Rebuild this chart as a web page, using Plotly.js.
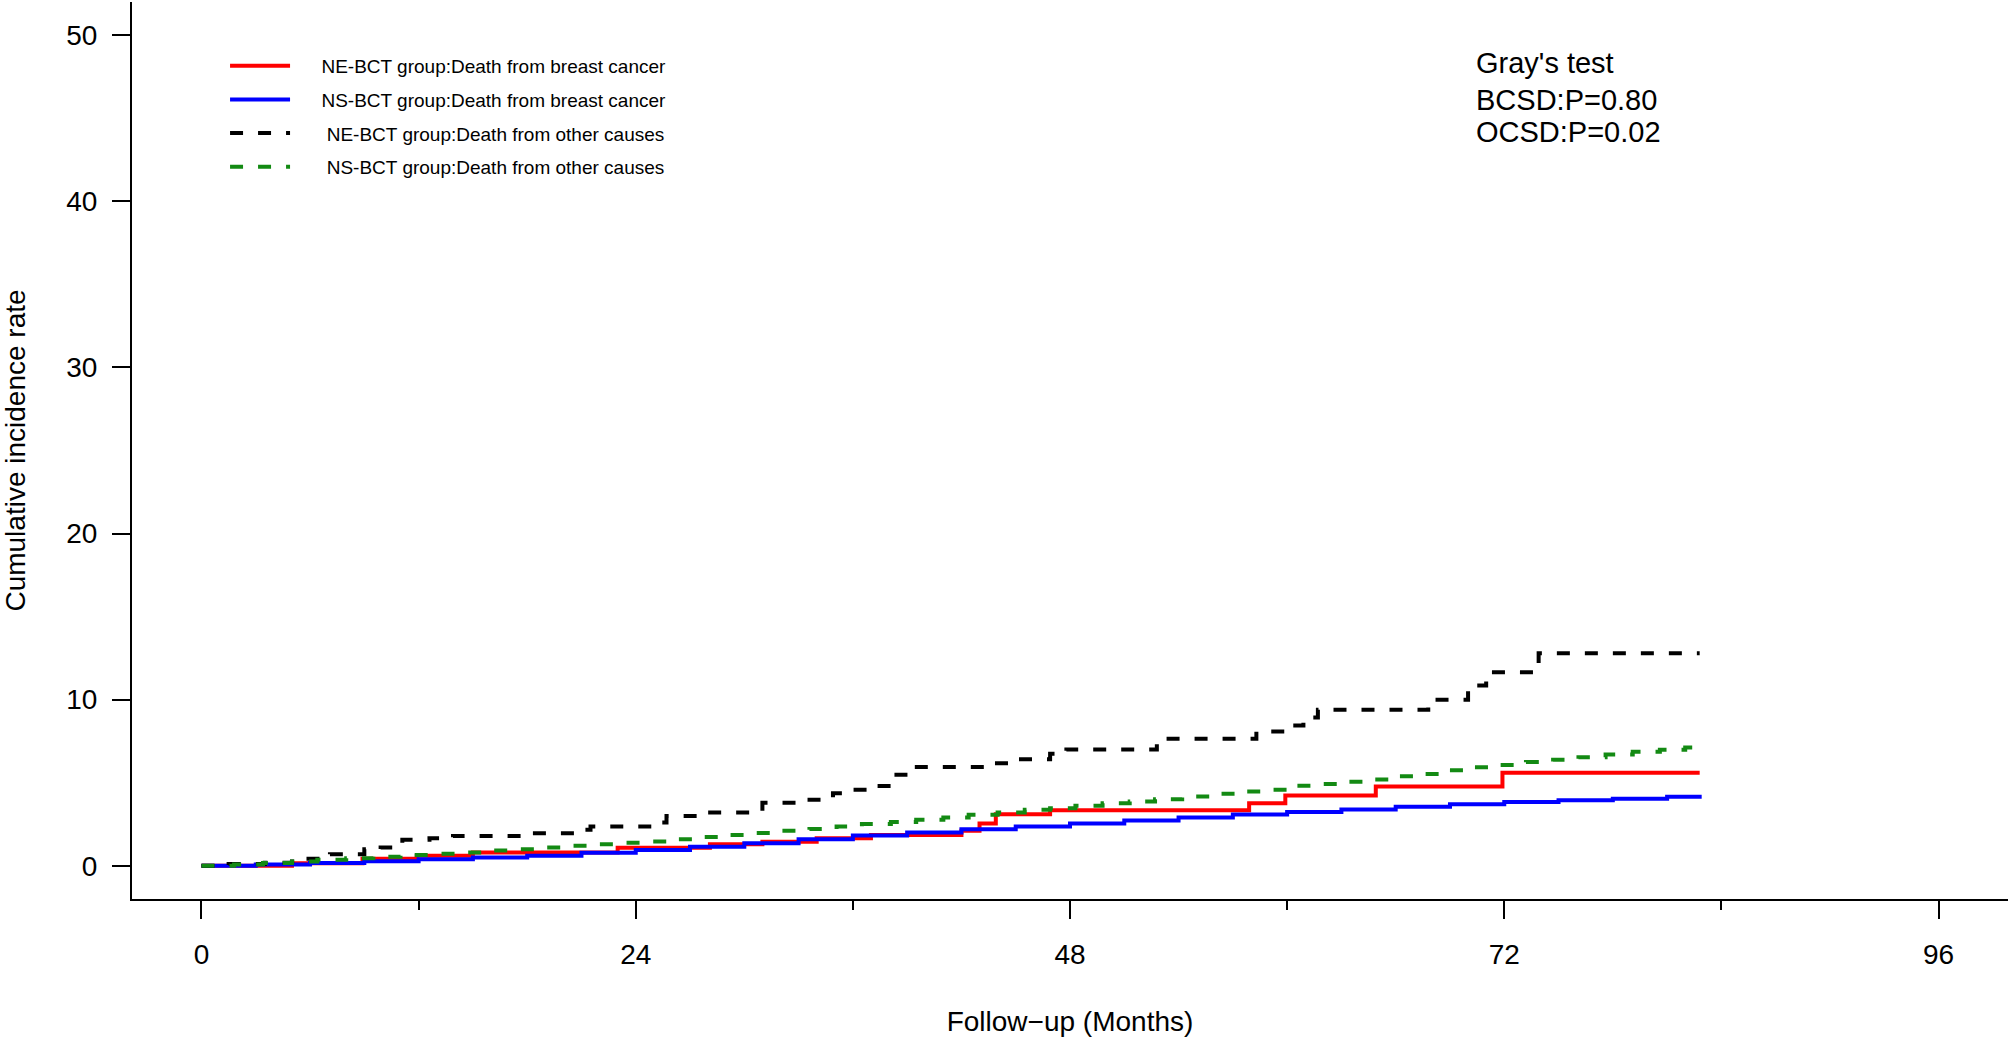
<!DOCTYPE html>
<html>
<head>
<meta charset="utf-8">
<script src="https://cdn.plot.ly/plotly-3.0.1.min.js"></script>
<style>
  body { margin: 0; background: #fff; }
</style>
</head>
<body>
<div id="myDiv"></div>
<script>
// NE-BCT group: death from breast cancer (step points, months / %)
const neBcMonths = [0, 5.0, 8.9, 11.9, 15.0, 23.0, 28.1, 31.0, 34.0, 37.0, 42.0, 43.0, 43.9, 46.9, 57.9, 59.9, 64.9, 71.9, 82.8];
const neBcRate   = [0, 0.15, 0.42, 0.6, 0.8, 1.08, 1.3, 1.45, 1.66, 1.86, 2.11, 2.55, 3.1, 3.35, 3.77, 4.23, 4.77, 5.6, 5.6];

// NS-BCT group: death from breast cancer
const nsBcMonths = [0, 3, 6, 9, 12, 15, 18, 21, 24, 27, 30, 33, 36, 39, 42, 45, 48, 51, 54, 57, 60, 63, 66, 69, 72, 75, 78, 81, 82.8];
const nsBcRate   = [0, 0.08, 0.16, 0.28, 0.4, 0.5, 0.61, 0.78, 0.95, 1.15, 1.36, 1.6, 1.82, 2.0, 2.2, 2.37, 2.54, 2.72, 2.9, 3.08, 3.23, 3.39, 3.55, 3.7, 3.84, 3.95, 4.04, 4.16, 4.27];

// NE-BCT group: death from other causes
const neOcMonths = [0, 1.5, 3.5, 5.0, 5.8, 7.1, 9.0, 9.9, 11.1, 12.6, 13.9, 18.1, 21.0, 21.5, 24.9, 25.7, 28.0, 31.0, 32.9, 34.9, 35.6, 36.9, 38.2, 39.3, 43.7, 45.1, 46.9, 47.8, 52.8, 58.3, 59.9, 60.9, 61.7, 67.8, 70.0, 71.0, 73.9, 82.8];
const neOcRate   = [0, 0.1, 0.18, 0.26, 0.42, 0.7, 1.0, 1.1, 1.56, 1.65, 1.8, 1.96, 2.17, 2.36, 2.6, 3.0, 3.21, 3.79, 3.97, 4.37, 4.57, 4.81, 5.48, 5.94, 6.17, 6.41, 6.74, 7.0, 7.64, 8.08, 8.44, 8.92, 9.39, 9.99, 10.85, 11.65, 12.8, 12.8];

// NS-BCT group: death from other causes
const nsOcMonths = [0, 1.8, 3.4, 5.0, 6.4, 8.0, 9.5, 11.0, 12.6, 14.1, 15.6, 17.1, 18.7, 20.2, 21.6, 23.2, 24.6, 26.1, 27.6, 29.2, 30.6, 32.1, 33.6, 35.1, 36.5, 38.1, 39.5, 41.0, 42.4, 44.0, 45.5, 46.9, 48.3, 49.8, 51.3, 52.7, 54.2, 55.7, 57.2, 58.6, 60.2, 61.6, 63.1, 64.5, 66.0, 67.4, 68.9, 70.2, 71.7, 73.2, 74.7, 76.1, 77.6, 79.1, 80.6, 82.0, 82.8];
const nsOcRate   = [0, 0.08, 0.16, 0.26, 0.36, 0.46, 0.55, 0.65, 0.72, 0.8, 0.92, 1.0, 1.1, 1.2, 1.3, 1.38, 1.46, 1.6, 1.73, 1.86, 1.97, 2.11, 2.21, 2.37, 2.51, 2.63, 2.77, 2.91, 3.07, 3.21, 3.37, 3.47, 3.61, 3.77, 3.87, 4.01, 4.17, 4.33, 4.47, 4.57, 4.82, 4.92, 5.06, 5.19, 5.39, 5.53, 5.75, 5.93, 6.07, 6.24, 6.38, 6.54, 6.7, 6.86, 6.98, 7.12, 7.12];

const seriesNames = [
  "NE-BCT group:Death from breast cancer",
  "NS-BCT group:Death from breast cancer",
  "NE-BCT group:Death from other causes",
  "NS-BCT group:Death from other causes"
];
const xTicks = [0, 24, 48, 72, 96];
const xMinorTicks = [12, 36, 60, 84];
const yTicks = [0, 10, 20, 30, 40, 50];
const testLines = ["Gray's test", "BCSD:P=0.80", "OCSD:P=0.02"];

const FONT = "Liberation Sans, Arial, Helvetica, sans-serif";
const DASH = "13px,15px";
// gap between legend line sample and its text, as in the R legend
const pad = (n) => "\u00a0".repeat(n);

function stepTrace(x, y, name, color, dash, group) {
  return {
    type: "scatter",
    mode: "lines",
    x: x,
    y: y,
    name: name,
    legendgroup: group,
    line: { color: color, width: 4, shape: "hv", dash: dash },
    hoverinfo: "skip"
  };
}

let data = [
  stepTrace(neBcMonths, neBcRate, pad(5) + seriesNames[0], "#FF0000", "solid", "g1"),
  stepTrace(nsBcMonths, nsBcRate, pad(5) + seriesNames[1], "#0000FF", "solid", "g2"),
  stepTrace(neOcMonths, neOcRate, pad(6) + seriesNames[2], "#000000", DASH, "g3"),
  stepTrace(nsOcMonths, nsOcRate, pad(6) + seriesNames[3], "#138A13", DASH, "g4")
];

// Gray's test text, one line per annotation
const testY = [48.35, 46.1, 44.17];
let annotations = testLines.map((t, i) => ({
  text: t,
  x: 70.35,
  y: testY[i],
  xref: "x",
  yref: "y",
  xanchor: "left",
  yanchor: "middle",
  showarrow: false,
  font: { family: FONT, size: 29, color: "#000" }
}));

let layout = {
  width: 2008,
  height: 1037,
  margin: { l: 132, r: 0, t: 2, b: 138 },
  paper_bgcolor: "#FFFFFF",
  plot_bgcolor: "#FFFFFF",
  font: { family: FONT, color: "#000" },
  showlegend: true,
  legend: {
    x: 0.0496,
    y: 0.95,
    xanchor: "left",
    yanchor: "top",
    bgcolor: "rgba(0,0,0,0)",
    font: { family: FONT, size: 19, color: "#000" },
    itemwidth: 60,
    tracegroupgap: 6,
    traceorder: "grouped"
  },
  xaxis: {
    range: [-3.84, 99.84],
    tickmode: "array",
    tickvals: xTicks,
    ticktext: xTicks.map(String),
    ticks: "outside",
    ticklen: 18,
    tickwidth: 2,
    tickcolor: "#000",
    ticklabelstandoff: 11,
    minor: { tickmode: "array", tickvals: xMinorTicks, ticks: "outside", ticklen: 9, tickwidth: 2, tickcolor: "#000", showgrid: false },
    showline: true,
    linewidth: 2,
    linecolor: "#000",
    showgrid: false,
    zeroline: false,
    tickfont: { family: FONT, size: 28, color: "#000" },
    title: { text: "Follow\u2212up (Months)", font: { family: FONT, size: 28, color: "#000" }, standoff: 61 }
  },
  yaxis: {
    range: [-2, 52],
    tickmode: "array",
    tickvals: yTicks,
    ticks: "outside",
    ticklen: 18,
    tickwidth: 2,
    tickcolor: "#000",
    ticklabelstandoff: 9,
    showline: true,
    linewidth: 2,
    linecolor: "#000",
    showgrid: false,
    zeroline: false,
    tickfont: { family: FONT, size: 28, color: "#000" },
    title: { text: "Cumulative incidence rate", font: { family: FONT, size: 28, color: "#000" }, standoff: 38 }
  },
  annotations: annotations
};

Plotly.newPlot("myDiv", data, layout, { displayModeBar: false, staticPlot: true });
</script>
</body>
</html>
